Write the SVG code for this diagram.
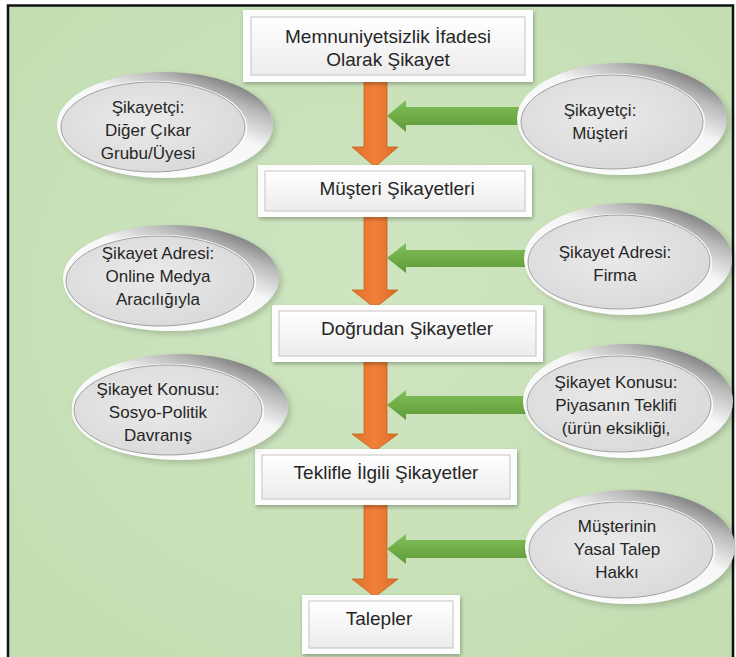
<svg xmlns="http://www.w3.org/2000/svg" width="736" height="657" viewBox="0 0 736 657">
<style>
.t{font-family:"Liberation Sans",Arial,sans-serif;fill:#262626;text-anchor:middle}
.tb{font-size:19px}
.te{font-size:17px}
.bo{fill:#fdfdfd;filter:url(#sh)}
.bi{fill:url(#face);stroke:#c4c4c4;stroke-width:1}
.eo{fill:url(#rim);filter:url(#esh)}
.ei{fill:url(#inner);stroke:#a0a0a0;stroke-width:1}
.ew{fill:none;stroke:#fafafa;stroke-width:2.5}
.oa{fill:url(#og);stroke:#c8641f;stroke-width:0.8}
.ga{fill:url(#gg)}
</style>
<defs>
<filter id="sh" x="-10%" y="-20%" width="120%" height="150%">
<feGaussianBlur in="SourceAlpha" stdDeviation="2"/>
<feOffset dx="1" dy="2" result="b"/>
<feComponentTransfer><feFuncA type="linear" slope="0.3"/></feComponentTransfer>
<feMerge><feMergeNode/><feMergeNode in="SourceGraphic"/></feMerge>
</filter>
<filter id="esh" x="-15%" y="-20%" width="135%" height="150%">
<feGaussianBlur in="SourceAlpha" stdDeviation="3"/>
<feOffset dx="3" dy="3" result="b"/>
<feComponentTransfer><feFuncA type="linear" slope="0.18"/></feComponentTransfer>
<feMerge><feMergeNode/><feMergeNode in="SourceGraphic"/></feMerge>
</filter>
<linearGradient id="face" x1="0" y1="0" x2="0" y2="1">
<stop offset="0" stop-color="#ffffff"/><stop offset="1" stop-color="#ececec"/>
</linearGradient>
<linearGradient id="rim" x1="0.15" y1="0.95" x2="0.85" y2="0.05">
<stop offset="0" stop-color="#ffffff"/><stop offset="0.6" stop-color="#f6f6f6"/><stop offset="0.82" stop-color="#b8b8b8"/><stop offset="1" stop-color="#6a6a6a"/>
</linearGradient>
<radialGradient id="inner" cx="0.45" cy="0.45" r="0.6">
<stop offset="0" stop-color="#eaeaea"/><stop offset="1" stop-color="#d9d9d9"/>
</radialGradient>
<linearGradient id="og" x1="0" y1="0" x2="1" y2="0">
<stop offset="0" stop-color="#e0702a"/><stop offset="0.5" stop-color="#f0803a"/><stop offset="1" stop-color="#dc6c26"/>
</linearGradient>
<linearGradient id="gg" x1="0" y1="0" x2="0" y2="1">
<stop offset="0" stop-color="#82c05c"/><stop offset="0.5" stop-color="#70ad47"/><stop offset="1" stop-color="#5f983b"/>
</linearGradient>
<radialGradient id="bg" cx="0.5" cy="0.45" r="0.7">
<stop offset="0" stop-color="#cfe6c1"/><stop offset="1" stop-color="#c3ddb2"/>
</radialGradient>
</defs>

<rect x="0" y="0" width="736" height="657" fill="#ffffff"/>
<rect x="8" y="5.5" width="725" height="660" fill="url(#bg)" stroke="#111" stroke-width="2.5"/>

<g id="connectors">
<polygon class="oa" points="364,80 387,80 387,147 398,147 375,167 352,147 364,147"/>
<polygon class="oa" points="364,215 387,215 387,290 398,290 375,308 352,290 364,290"/>
<polygon class="oa" points="364,360 387,360 387,434 398,434 375,451 352,434 364,434"/>
<polygon class="oa" points="364,503 387,503 387,579 398,579 375,597 352,579 364,579"/>
<polygon class="ga" points="387,116 406,100 406,107 525,107 525,125 406,125 406,132"/>
<polygon class="ga" points="387,258 406,243 406,250 530,250 530,267 406,267 406,273"/>
<polygon class="ga" points="387,405 406,390 406,396 530,396 530,414 406,414 406,420"/>
<polygon class="ga" points="387,549 406,534 406,540 530,540 530,558 406,558 406,564"/>
</g>

<g id="box1">
<rect class="bo" x="243" y="10" width="290" height="72"/>
<rect class="bi" x="251" y="17" width="274" height="58"/>
<text class="t tb" x="388" y="43">Memnuniyetsizlik İfadesi</text>
<text class="t tb" x="388" y="66">Olarak Şikayet</text>
</g>
<g id="box2">
<rect class="bo" x="258" y="165" width="274" height="52"/>
<rect class="bi" x="265" y="171" width="260" height="40"/>
<text class="t tb" x="397" y="195">Müşteri Şikayetleri</text>
</g>
<g id="box3">
<rect class="bo" x="272" y="305" width="271" height="57"/>
<rect class="bi" x="279" y="311" width="257" height="45"/>
<text class="t tb" x="407" y="335">Doğrudan Şikayetler</text>
</g>
<g id="box4">
<rect class="bo" x="255" y="449" width="262" height="56"/>
<rect class="bi" x="262" y="455" width="248" height="44"/>
<text class="t tb" x="386" y="479">Teklifle İlgili Şikayetler</text>
</g>
<g id="box5">
<rect class="bo" x="302" y="595" width="158" height="59"/>
<rect class="bi" x="309" y="601" width="144" height="47"/>
<text class="t tb" x="379" y="625">Talepler</text>
</g>

<g id="el-l1">
<ellipse class="eo" cx="165" cy="125" rx="108" ry="53"/>
<ellipse class="ew" cx="153" cy="128" rx="93" ry="46"/>
<ellipse class="ei" cx="153" cy="127" rx="92" ry="45"/>
<text class="t te" x="148" y="113">Şikayetçi:</text>
<text class="t te" x="148" y="136">Diğer Çıkar</text>
<text class="t te" x="148" y="159">Grubu/Üyesi</text>
</g>
<g id="el-l2">
<ellipse class="eo" cx="171" cy="278" rx="108" ry="53"/>
<ellipse class="ew" cx="160" cy="282" rx="95" ry="46"/>
<ellipse class="ei" cx="160" cy="281" rx="94" ry="45"/>
<text class="t te" x="158" y="259">Şikayet Adresi:</text>
<text class="t te" x="158" y="282">Online Medya</text>
<text class="t te" x="158" y="305">Aracılığıyla</text>
</g>
<g id="el-l3">
<ellipse class="eo" cx="180" cy="407" rx="108" ry="53"/>
<ellipse class="ew" cx="168" cy="411" rx="95" ry="46"/>
<ellipse class="ei" cx="168" cy="410" rx="94" ry="45"/>
<text class="t te" x="158" y="395">Şikayet Konusu:</text>
<text class="t te" x="158" y="418">Sosyo-Politik</text>
<text class="t te" x="158" y="441">Davranış</text>
</g>
<g id="el-r1">
<ellipse class="eo" cx="622" cy="119" rx="105" ry="56"/>
<ellipse class="ew" cx="612" cy="123" rx="92" ry="48"/>
<ellipse class="ei" cx="612" cy="122" rx="91" ry="47"/>
<text class="t te" x="600" y="116">Şikayetçi:</text>
<text class="t te" x="600" y="139">Müşteri</text>
</g>
<g id="el-r2">
<ellipse class="eo" cx="628" cy="259" rx="104" ry="56"/>
<ellipse class="ew" cx="619" cy="263" rx="92" ry="48"/>
<ellipse class="ei" cx="619" cy="262" rx="91" ry="47"/>
<text class="t te" x="615" y="258">Şikayet Adresi:</text>
<text class="t te" x="615" y="281">Firma</text>
</g>
<g id="el-r3">
<ellipse class="eo" cx="628" cy="401" rx="105" ry="57"/>
<ellipse class="ew" cx="619" cy="405" rx="93" ry="49"/>
<ellipse class="ei" cx="619" cy="404" rx="92" ry="48"/>
<text class="t te" x="616" y="388">Şikayet Konusu:</text>
<text class="t te" x="616" y="411">Piyasanın Teklifi</text>
<text class="t te" x="616" y="434">(ürün eksikliği,</text>
</g>
<g id="el-r4">
<ellipse class="eo" cx="630" cy="547" rx="105" ry="57"/>
<ellipse class="ew" cx="621" cy="551" rx="93" ry="49"/>
<ellipse class="ei" cx="621" cy="550" rx="92" ry="48"/>
<text class="t te" x="617" y="532">Müşterinin</text>
<text class="t te" x="617" y="555">Yasal Talep</text>
<text class="t te" x="617" y="578">Hakkı</text>
</g>
</svg>
